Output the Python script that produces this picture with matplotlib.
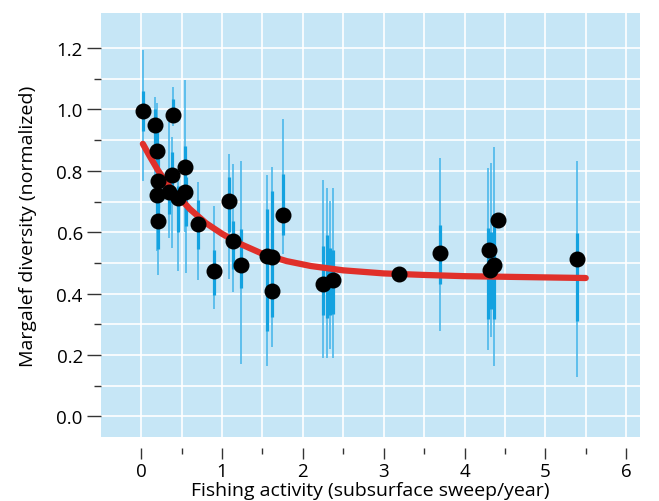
import matplotlib.pyplot as plt
from matplotlib.ticker import MultipleLocator, FixedLocator

plt.rcParams['font.family'] = ['Open Sans', 'DejaVu Sans']

# data points (fishing activity vs normalized Margalef diversity)
pt_x = [0.02, 0.17, 0.39, 0.19, 0.38, 0.545, 0.21, 0.19, 0.34, 0.45, 0.545, 0.21,
        0.70, 0.90, 1.09, 1.14, 1.24, 1.56, 1.62, 1.615, 1.76, 2.255, 2.37,
        3.19, 3.70, 4.30, 4.31, 4.37, 4.41, 5.39]
pt_y = [0.994, 0.949, 0.982, 0.866, 0.785, 0.812, 0.766, 0.723, 0.731, 0.711, 0.731, 0.637,
        0.627, 0.474, 0.703, 0.571, 0.492, 0.524, 0.519, 0.410, 0.655, 0.430, 0.445,
        0.463, 0.532, 0.541, 0.478, 0.493, 0.641, 0.514]

# confidence intervals (outer = thin, inner = thick)
bar_x = [0.02, 0.17, 0.39, 0.19, 0.38, 0.545, 0.21, 0.19, 0.34, 0.45, 0.55, 0.21,
         0.70, 0.90, 1.09, 1.14, 1.24, 1.56, 1.62, 1.76, 2.255, 2.30, 2.33, 2.37,
         3.70, 4.29, 4.33, 4.36, 5.39]
outer_lo = [0.767, 0.76, 0.947, 0.70, 0.55, 0.60, 0.58, 0.54, 0.58, 0.473, 0.468, 0.46,
            0.443, 0.349, 0.449, 0.405, 0.172, 0.165, 0.227, 0.53, 0.191, 0.191, 0.221, 0.191,
            0.277, 0.216, 0.259, 0.166, 0.129]
outer_hi = [1.193, 1.04, 1.073, 1.02, 0.91, 1.096, 0.95, 0.92, 0.958, 0.77, 0.80, 0.76,
            0.765, 0.685, 0.855, 0.822, 0.831, 0.785, 0.812, 0.97, 0.771, 0.744, 0.703, 0.744,
            0.841, 0.81, 0.826, 0.878, 0.831]
inner_lo = [0.93, 0.87, 0.969, 0.80, 0.70, 0.74, 0.68, 0.64, 0.66, 0.60, 0.62, 0.544,
            0.544, 0.397, 0.60, 0.481, 0.418, 0.28, 0.324, 0.59, 0.329, 0.32, 0.33, 0.335,
            0.432, 0.319, 0.35, 0.319, 0.31]
inner_hi = [1.06, 1.00, 1.034, 0.93, 0.86, 0.88, 0.85, 0.80, 0.80, 0.75, 0.78, 0.72,
            0.706, 0.543, 0.781, 0.638, 0.611, 0.676, 0.736, 0.79, 0.556, 0.592, 0.55, 0.543,
            0.624, 0.615, 0.60, 0.628, 0.597]

# fitted trend
fit_x = [0.02, 0.1, 0.2, 0.3, 0.4, 0.5, 0.6, 0.8, 1.0, 1.2, 1.5, 1.8, 2.1, 2.5,
         3.0, 3.5, 4.0, 4.5, 5.0, 5.5]
fit_y = [0.888, 0.85, 0.805, 0.765, 0.732, 0.705, 0.676, 0.630, 0.595, 0.565, 0.530,
         0.506, 0.490, 0.476, 0.466, 0.461, 0.457, 0.455, 0.453, 0.451]

x_minor = [0.5, 1.5, 2.5, 3.5, 4.5, 5.5]
y_minor = [0.1, 0.3, 0.5, 0.7, 0.9, 1.1]

fig = plt.figure(figsize=(6.59, 5.02), dpi=100)
ax = fig.add_axes([0.153, 0.128, 0.818, 0.844])
ax.set_facecolor('#c6e6f6')

ax.vlines(bar_x, outer_lo, outer_hi, color='#4cb8ea', alpha=0.85, linewidth=1.4, zorder=2)
ax.vlines(bar_x, inner_lo, inner_hi, color='#13a2e0', linewidth=2.3, zorder=3)
ax.plot(fit_x, fit_y, color='#e0302a', linewidth=4.5, solid_capstyle='round', zorder=4)
ax.plot(pt_x, pt_y, 'o', color='black', markersize=10.5, zorder=5)

ax.set_xlim(-0.5, 6.17)
ax.set_ylim(-0.066, 1.314)
ax.xaxis.set_major_locator(MultipleLocator(1))
ax.xaxis.set_minor_locator(FixedLocator(x_minor))
ax.yaxis.set_major_locator(MultipleLocator(0.2))
ax.yaxis.set_minor_locator(FixedLocator(y_minor))
ax.yaxis.set_major_formatter(plt.FormatStrFormatter('%.1f'))

ax.grid(True, which='both', color='white', linewidth=1.2, zorder=0)
ax.set_axisbelow(True)
for s in ax.spines.values():
    s.set_visible(False)
ax.spines['bottom'].set_position(('outward', 8))

ax.tick_params(which='major', length=10, width=1, color='#333333', labelsize=13.5, pad=3)
ax.tick_params(which='minor', length=5, width=1, color='#333333')
ax.tick_params(axis='x', which='major', length=8, pad=2)
ax.tick_params(axis='x', which='minor', length=4)

ax.set_xlabel('Fishing activity (subsurface sweep/year)', fontsize=14, labelpad=1)
ax.set_ylabel('Margalef diversity (normalized)', fontsize=14, labelpad=14)

fig.savefig('out.png', dpi=100)
